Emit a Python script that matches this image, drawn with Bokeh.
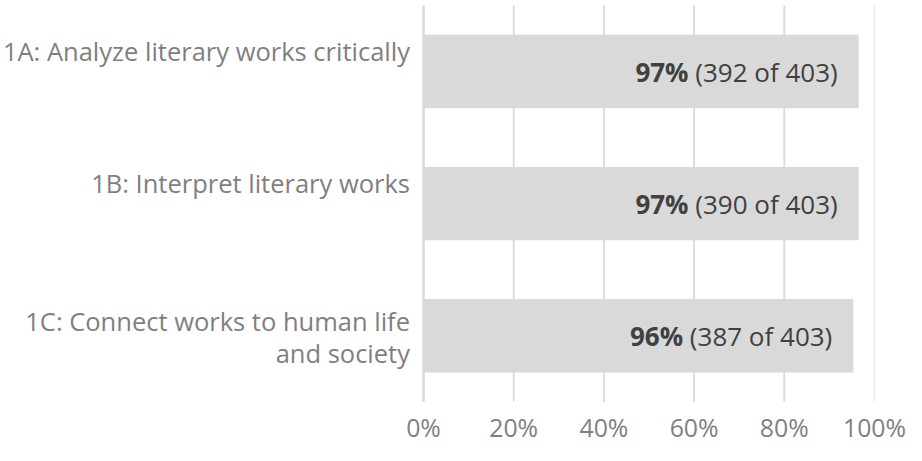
from bokeh.plotting import figure
from bokeh.models import Range1d, ColumnDataSource
from bokeh.core.properties import value
from bokeh.embed import file_html
from bokeh.resources import INLINE

# ---------------- data ----------------
categories = [
    "1A: Analyze literary works critically",
    "1B: Interpret literary works",
    "1C: Connect works to human life\nand society",
]
shares = [0.965, 0.965, 0.953]          # bar lengths
pct_labels = ["97%", "97%", "96%"]
met_counts = [392, 390, 387]
total_count = 403
tick_values = [0.0, 0.2, 0.4, 0.6, 0.8, 1.0]
tick_labels = ["0%", "20%", "40%", "60%", "80%", "100%"]

# ---------------- styles ----------------
FONT = "Open Sans"
BAR_COLOR = "#d9d9d9"
GRID_COLOR = "#d9d9d9"
TEXT_GRAY = "#7f7f7f"
LABEL_DARK = "#404040"
CAT_SIZE = 25.5
TICK_SIZE = 24.8
DL_SIZE = 26.0
BASE_FIX = -9.5   # baseline correction for text rendering

n = len(categories)
ypos = [n - 1 - i for i in range(n)]

p = figure(
    width=906, height=445,
    x_range=Range1d(-0.9379, 1.0710),
    y_range=Range1d(-0.831, 2.5375),
    x_axis_location=None, y_axis_location=None,
    toolbar_location=None, output_backend="svg",
    min_border=0, min_border_left=0, min_border_right=0,
    min_border_top=0, min_border_bottom=0,
)
p.outline_line_color = None
p.grid.visible = False
p.background_fill_color = "white"
p.border_fill_color = "white"

# gridlines (value axis)
g_colors = []
g_widths = []
for k, t in enumerate(tick_values):
    if k == 0:
        g_colors.append(GRID_COLOR); g_widths.append(2.6)
    elif k == len(tick_values) - 1:
        g_colors.append("#ececec"); g_widths.append(1.6)
    else:
        g_colors.append(GRID_COLOR); g_widths.append(1.8)
grid_src = ColumnDataSource(dict(
    x0=tick_values, x1=tick_values,
    y0=[-0.5] * len(tick_values), y1=[n - 0.5] * len(tick_values),
    c=g_colors, w=g_widths,
))
p.segment("x0", "y0", "x1", "y1", source=grid_src, line_color="c", line_width="w")

# bars
bar_src = ColumnDataSource(dict(y=ypos, right=shares))
p.hbar(y="y", left=0, right="right", height=0.555, source=bar_src,
       fill_color=BAR_COLOR, line_color=None)

# tick labels
tick_src = ColumnDataSource(dict(x=tick_values, y=[-0.5] * len(tick_values), text=tick_labels))
p.text("x", "y", text="text", source=tick_src, y_offset=35 + BASE_FIX,
       text_font=value(FONT), text_font_size=f"{TICK_SIZE}px", text_color=TEXT_GRAY,
       text_align="center", text_baseline="alphabetic")

# category labels (split into lines)
cx, cy, ct, coff = [], [], [], []
for i, cat in enumerate(categories):
    lines = cat.split("\n")
    for j, line in enumerate(lines):
        cx.append(0.0)
        cy.append(ypos[i])
        ct.append(line)
        coff.append(-11 + 5.6 * (len(lines) - 1) + 32.3 * j + BASE_FIX)
cat_src = ColumnDataSource(dict(x=cx, y=cy, text=ct, yo=coff))
p.text("x", "y", text="text", source=cat_src, x_offset=-13.5, y_offset="yo",
       text_font=value(FONT), text_font_size=f"{CAT_SIZE}px", text_color=TEXT_GRAY,
       text_align="right", text_baseline="alphabetic")

# data labels: bold percentage + normal "(x of N)"
OS_W = {"(": 0.295, ")": 0.295, " ": 0.260, "o": 0.603, "f": 0.342}
for d in "0123456789":
    OS_W[d] = 0.572

def text_width(s, size):
    return sum(OS_W.get(ch, 0.55) for ch in s) * size

END_PAD = 21.0
GAP = 6.5
count_texts = [f"({m} of {total_count})" for m in met_counts]
bold_offsets = [-(END_PAD + text_width(t, DL_SIZE) + GAP) for t in count_texts]

dl_src = ColumnDataSource(dict(x=shares, y=ypos, cnt=count_texts, pct=pct_labels, bo=bold_offsets))
p.text("x", "y", text="cnt", source=dl_src, x_offset=-END_PAD, y_offset=9.5 + BASE_FIX,
       text_font=value(FONT), text_font_size=f"{DL_SIZE}px", text_color=LABEL_DARK,
       text_align="right", text_baseline="alphabetic")
p.text("x", "y", text="pct", source=dl_src, x_offset="bo", y_offset=9.5 + BASE_FIX,
       text_font=value(FONT), text_font_size=f"{DL_SIZE}px", text_color=LABEL_DARK,
       text_font_style="bold", text_align="right", text_baseline="alphabetic")

open("out.html", "w").write(file_html(p, INLINE))
